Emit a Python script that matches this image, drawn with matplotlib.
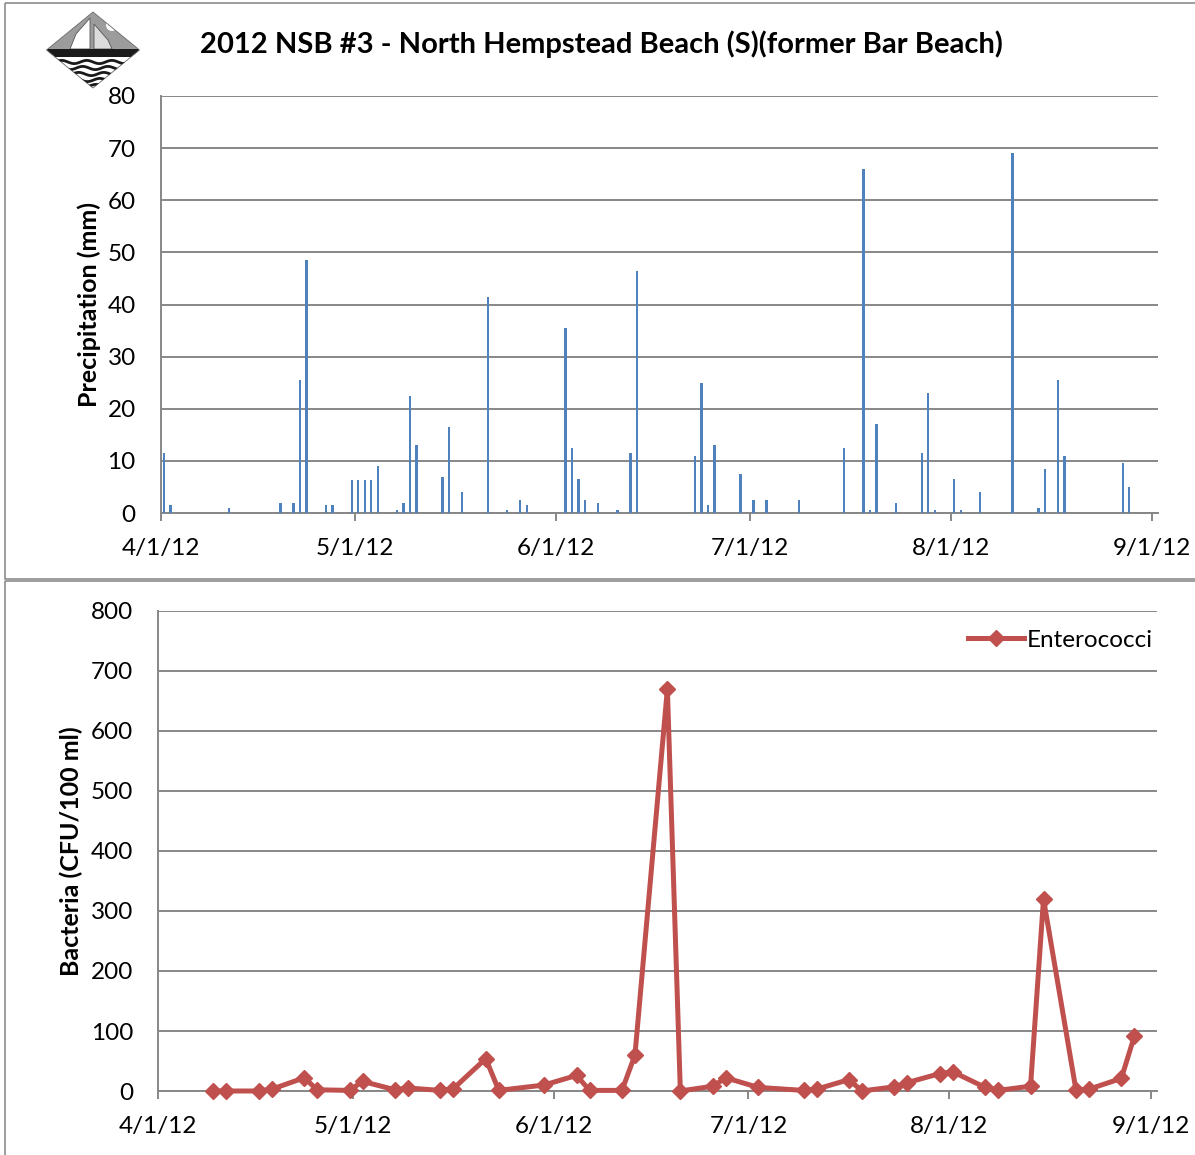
import matplotlib
matplotlib.use("Agg")
import matplotlib.pyplot as plt
import matplotlib.dates as mdates
import numpy as np
import pandas as pd
from matplotlib.patches import Polygon, Rectangle

plt.rcParams['font.family'] = ['Lato', 'DejaVu Sans']

# ---------------- data ----------------
title = "2012 NSB #3 - North Hempstead Beach (S)(former Bar Beach)"

precip_dates = ["2012-04-01", "2012-04-02", "2012-04-11", "2012-04-19", "2012-04-21",
                "2012-04-22", "2012-04-23", "2012-04-26", "2012-04-27", "2012-04-30",
                "2012-05-01", "2012-05-02", "2012-05-03", "2012-05-04", "2012-05-07",
                "2012-05-08", "2012-05-09", "2012-05-10", "2012-05-14", "2012-05-15",
                "2012-05-17", "2012-05-21", "2012-05-24", "2012-05-26", "2012-05-27",
                "2012-06-02", "2012-06-03", "2012-06-04", "2012-06-05", "2012-06-07",
                "2012-06-10", "2012-06-12", "2012-06-13", "2012-06-22", "2012-06-23",
                "2012-06-24", "2012-06-25", "2012-06-29", "2012-07-01", "2012-07-03",
                "2012-07-08", "2012-07-15", "2012-07-18", "2012-07-19", "2012-07-20",
                "2012-07-23", "2012-07-27", "2012-07-28", "2012-07-29", "2012-08-01",
                "2012-08-02", "2012-08-05", "2012-08-10", "2012-08-14", "2012-08-15",
                "2012-08-17", "2012-08-18", "2012-08-27", "2012-08-28"]
precip_mm = [11.5, 1.5, 1.0, 2.0, 2.0,
             25.5, 48.5, 1.5, 1.5, 6.3,
             6.3, 6.3, 6.3, 9.0, 0.5,
             2.0, 22.5, 13.0, 7.0, 16.5,
             4.0, 41.5, 0.5, 2.5, 1.5,
             35.5, 12.5, 6.5, 2.5, 2.0,
             0.5, 11.5, 46.5, 11.0, 25.0,
             1.5, 13.0, 7.5, 2.5, 2.5,
             2.5, 12.5, 66.0, 0.5, 17.0,
             2.0, 11.5, 23.0, 0.5, 6.5,
             0.5, 4.0, 69.0, 1.0, 8.5,
             25.5, 11.0, 9.5, 5.0]

entero_dates = ["2012-04-09", "2012-04-11", "2012-04-16", "2012-04-18", "2012-04-23",
                "2012-04-25", "2012-04-30", "2012-05-02", "2012-05-07", "2012-05-09",
                "2012-05-14", "2012-05-16", "2012-05-21", "2012-05-23", "2012-05-30",
                "2012-06-04", "2012-06-06", "2012-06-11", "2012-06-13", "2012-06-18",
                "2012-06-20", "2012-06-25", "2012-06-27", "2012-07-02", "2012-07-09",
                "2012-07-11", "2012-07-16", "2012-07-18", "2012-07-23", "2012-07-25",
                "2012-07-30", "2012-08-01", "2012-08-06", "2012-08-08", "2012-08-13",
                "2012-08-15", "2012-08-20", "2012-08-22", "2012-08-27", "2012-08-29"]
entero_cfu = [0, 0, 0, 3, 22,
              2, 1, 16, 2, 5,
              1, 4, 54, 1, 10,
              26, 1, 1, 60, 670,
              0, 8, 22, 6, 1,
              3, 19, 0, 7, 14,
              29, 32, 6, 1, 8,
              320, 2, 3, 21, 91]

month_ticks = ["2012-04-01", "2012-05-01", "2012-06-01", "2012-07-01", "2012-08-01", "2012-09-01"]
month_labels = ["4/1/12", "5/1/12", "6/1/12", "7/1/12", "8/1/12", "9/1/12"]
precip_yticks = [0, 10, 20, 30, 40, 50, 60, 70, 80]
bact_yticks = [0, 100, 200, 300, 400, 500, 600, 700, 800]
x_start, x_end = "2012-04-01", "2012-09-02"

# ---------------- style ----------------
W, H = 1195, 1155
GRAY = '#878787'
BLUE = '#4F81BD'
RED = '#C0504D'
TICK_FS = 17.5

fig = plt.figure(figsize=(W / 100, H / 100), dpi=100)


def rect(x0, y0, x1, y1):
    return [x0 / W, 1 - y1 / H, (x1 - x0) / W, (y1 - y0) / H]


# background axes for borders and logo
bg = fig.add_axes([0, 0, 1, 1])
bg.set_xlim(0, W)
bg.set_ylim(H, 0)
bg.axis('off')
bg.add_patch(Rectangle((5, 3), 1195, 576, fill=False, ec='#8c8c8c', lw=1.2))
bg.add_patch(Rectangle((5, 581), 1195, 580, fill=False, ec='#8c8c8c', lw=1.2))

# logo (diamond with sailboat)
cx, cy, hw, hh = 93, 50, 46.5, 38
diamond = Polygon([(cx, cy - hh), (cx + hw, cy), (cx, cy + hh), (cx - hw, cy)],
                  closed=True, fc='white', ec='none')
bg.add_patch(diamond)
upper = Polygon([(cx - hw, cy), (cx, cy - hh), (cx + hw, cy)], closed=True, fc='#9c9c9c', ec='none')
bg.add_patch(upper)
upper.set_clip_path(diamond)
sail1 = Polygon([(70, 49), (76, 34), (90, 18), (90, 49)], closed=True, fc='white', ec='#555555', lw=0.6)
sail2 = Polygon([(94, 49), (94, 24), (108, 40), (112, 49)], closed=True, fc='#dcdcdc', ec='#555555', lw=0.6)
for p in (sail1, sail2):
    bg.add_patch(p)
    p.set_clip_path(diamond)
sun = plt.Circle((112, 25), 6, fc='white', ec='none')
bg.add_patch(sun)
sun.set_clip_path(diamond)
band = Rectangle((cx - hw, 49), 2 * hw, 8, fc='#1a1a1a', ec='none')
bg.add_patch(band)
band.set_clip_path(diamond)
wx = np.linspace(cx - hw, cx + hw, 80)
for k, yy in enumerate([62, 68, 74, 80, 86]):
    ln, = bg.plot(wx, yy + 1.6 * np.sin((wx - cx) / 4.0 + k), color='#1a1a1a', lw=2.0)
    ln.set_clip_path(diamond)
edge = Polygon([(cx, cy - hh), (cx + hw, cy), (cx, cy + hh), (cx - hw, cy)],
               closed=True, fc='none', ec='#666666', lw=0.6)
bg.add_patch(edge)

fig.text(601 / W, 1 - 44 / H, title, ha='center', va='center',
         fontsize=21, fontweight='bold', color='black')

xmin = mdates.date2num(pd.Timestamp(x_start))
xmax = mdates.date2num(pd.Timestamp(x_end))
tick_pos = mdates.date2num(pd.to_datetime(month_ticks))
half_day = pd.Timedelta(hours=12)


def style_axes(ax, yticks, ypad):
    ax.set_xlim(xmin, xmax)
    ax.set_ylim(yticks[0], yticks[-1])
    ax.set_yticks(yticks)
    ax.set_xticks(tick_pos)
    ax.set_xticklabels(month_labels)
    ax.yaxis.grid(True, color=GRAY, lw=1.4)
    ax.set_axisbelow(True)
    for s in ('top', 'right'):
        ax.spines[s].set_visible(False)
    for s in ('left', 'bottom'):
        ax.spines[s].set_color(GRAY)
        ax.spines[s].set_linewidth(1.4)
    ax.tick_params(axis='x', direction='out', length=6, width=1.4, color=GRAY,
                   pad=12, labelsize=TICK_FS)
    ax.tick_params(axis='y', length=0, pad=ypad, labelsize=TICK_FS)


# ---------------- top: precipitation ----------------
ax1 = fig.add_axes(rect(160.7, 96, 1158.3, 513))
px = mdates.date2num(pd.to_datetime(precip_dates) + half_day)
ax1.bar(px, precip_mm, width=0.36, color=BLUE, edgecolor='none', zorder=3)
style_axes(ax1, precip_yticks, 18)
ax1.set_ylabel('Precipitation (mm)', fontsize=18, fontweight='bold')
ax1.yaxis.set_label_coords((101 - 160.7) / 997.6, 0.5)

# ---------------- bottom: bacteria ----------------
ax2 = fig.add_axes(rect(158.3, 611, 1157, 1091))
ex = mdates.date2num(pd.to_datetime(entero_dates) + half_day)
ax2.plot(ex, entero_cfu, color=RED, lw=3.6, marker='D', ms=8.5,
         mec=RED, mfc=RED, label='Enterococci', zorder=3, clip_on=False)
style_axes(ax2, bact_yticks, 18)
ax2.set_ylabel('Bacteria (CFU/100 ml)', fontsize=18, fontweight='bold')
ax2.yaxis.set_label_coords((83 - 158.3) / 998.7, 0.5)
ax2.legend(loc='center right', bbox_to_anchor=(1153 / W, 1 - 640 / H),
           bbox_transform=fig.transFigure, frameon=False, fontsize=TICK_FS,
           handlelength=2.3, handletextpad=0.12, borderpad=0, borderaxespad=0)

fig.savefig('out.png', dpi=100)
